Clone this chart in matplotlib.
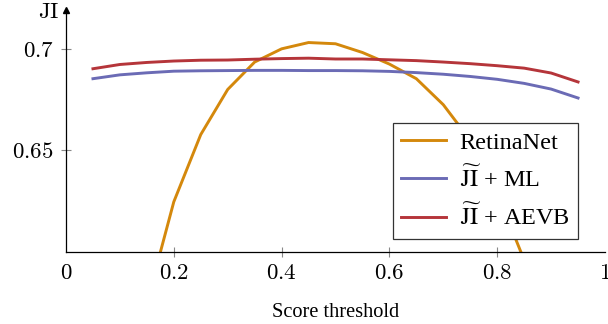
import numpy as np
import matplotlib.pyplot as plt

plt.rcParams['font.family'] = ['Liberation Serif', 'DejaVu Serif']
plt.rcParams['mathtext.fontset'] = 'cm'

thresholds = [0.05, 0.10, 0.15, 0.20, 0.25, 0.30, 0.35, 0.40, 0.45, 0.50,
              0.55, 0.60, 0.65, 0.70, 0.75, 0.80, 0.85, 0.90, 0.95]
retinanet = [0.500, 0.540, 0.575, 0.6247, 0.6578, 0.6800, 0.6935, 0.7000, 0.7031, 0.7025,
             0.6982, 0.6925, 0.6853, 0.6725, 0.6550, 0.6290, 0.5960, 0.560, 0.520]
ji_ml = [0.6853, 0.6872, 0.6882, 0.6890, 0.6892, 0.6893, 0.6894, 0.6894, 0.6893, 0.6893,
         0.6892, 0.6889, 0.6883, 0.6875, 0.6864, 0.6850, 0.6830, 0.6802, 0.6758]
ji_aevb = [0.6902, 0.6923, 0.6933, 0.6940, 0.6944, 0.6945, 0.6949, 0.6952, 0.6954, 0.6950,
           0.6950, 0.6946, 0.6942, 0.6935, 0.6927, 0.6917, 0.6905, 0.6881, 0.6837]

xticks = [0, 0.2, 0.4, 0.6, 0.8, 1]
xtick_labels = ['0', '0.2', '0.4', '0.6', '0.8', '1']
yticks = [0.65, 0.7]
ytick_labels = ['0.65', '0.7']

fig = plt.figure(figsize=(6.08, 3.24), dpi=100)
ax = fig.add_axes([66 / 608, 1 - 252 / 324, 539 / 608, 242 / 324])

ax.plot(thresholds, retinanet, color='#d4880c', lw=2.1, label='RetinaNet')
ax.plot(thresholds, ji_ml, color='#6b6bb5', lw=2.1, label=r'$\widetilde{\mathrm{JI}}$ + ML')
ax.plot(thresholds, ji_aevb, color='#b5353a', lw=2.1, label=r'$\widetilde{\mathrm{JI}}$ + AEVB')

ax.set_xlim(0, 1)
ax.set_ylim(0.6, 0.7 + 39 / 2040)

for s in ['top', 'right']:
    ax.spines[s].set_visible(False)
for s in ['left', 'bottom']:
    ax.spines[s].set_linewidth(0.9)

# arrow heads on the axis lines
ax.plot(1, 0, '>k', ms=5, transform=ax.get_yaxis_transform(), clip_on=False)
ax.plot(0, 1, '^k', ms=5, transform=ax.get_xaxis_transform(), clip_on=False)

ax.set_xticks(xticks)
ax.set_xticklabels(['$' + t + '$' for t in xtick_labels])
ax.set_yticks(yticks)
ax.set_yticklabels(['$' + t + '$' for t in ytick_labels])
ax.tick_params(direction='inout', length=7.5, width=0.8, color='#888888',
               labelsize=16.5)
ax.tick_params(axis='x', pad=4)
ax.tick_params(axis='y', pad=5)
ticks = ax.xaxis.get_major_ticks()
ticks[0].tick1line.set_visible(False)
ticks[-1].tick1line.set_visible(False)

ax.set_xlabel('Score threshold', fontsize=14.7, labelpad=14)
ax.text(-0.012, 0.99, r'$\mathrm{JI}$', transform=ax.transAxes, ha='right', va='center',
        fontsize=16.5)

leg = ax.legend(loc='upper right', bbox_to_anchor=(578 / 608, 1 - 123 / 324),
                bbox_transform=fig.transFigure, borderaxespad=0, fontsize=17.5,
                fancybox=False, edgecolor='#333333', framealpha=1,
                handlelength=1.85, labelspacing=0.5, borderpad=0.35,
                handletextpad=0.55)
leg.get_frame().set_linewidth(0.9)
for t in leg.get_texts():
    t.set_math_fontfamily('stix')

fig.savefig('out.png', dpi=100)
